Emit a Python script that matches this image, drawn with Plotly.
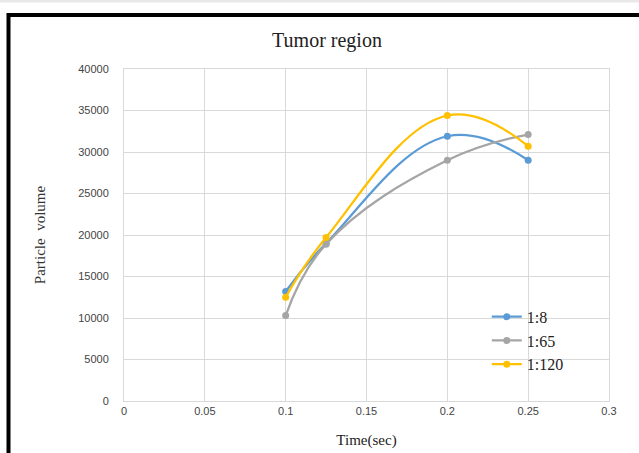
import plotly.graph_objects as go

time_sec = [0.1, 0.125, 0.2, 0.25]
series_names = ["1:8", "1:65", "1:120"]
vol_1_8 = [13200, 19000, 31900, 29000]
vol_1_65 = [10300, 18900, 29000, 32100]
vol_1_120 = [12500, 19700, 34400, 30700]
colors = ["#5B9BD5", "#A5A5A5", "#FFC000"]
x_ticks = [0, 0.05, 0.1, 0.15, 0.2, 0.25, 0.3]
x_tick_labels = ["0", "0.05", "0.1", "0.15", "0.2", "0.25", "0.3"]
y_ticks = [0, 5000, 10000, 15000, 20000, 25000, 30000, 35000, 40000]
y_tick_labels = [str(v) for v in y_ticks]

fig = go.Figure()
for name, vals, c in zip(series_names, [vol_1_8, vol_1_65, vol_1_120], colors):
    fig.add_trace(go.Scatter(
        x=time_sec, y=vals, name=name, mode="lines+markers",
        line=dict(color=c, width=2.25, shape="spline", smoothing=1.2),
        marker=dict(color=c, size=7),
    ))

serif = "Liberation Serif, Times New Roman, serif"
sans = "Liberation Sans, Arial, sans-serif"

fig.update_layout(
    width=639, height=453,
    margin=dict(l=124, r=30, t=69, b=52),
    paper_bgcolor="white", plot_bgcolor="white",
    title=dict(text="Tumor region", x=(327) / 639, xanchor="center",
               y=1 - 40 / 453, yanchor="middle",
               font=dict(family=serif, size=20, color="#222222")),
    xaxis=dict(range=[0, 0.3], tickvals=x_ticks, ticktext=x_tick_labels,
               showgrid=True, gridcolor="#d9d9d9", gridwidth=1, automargin=False,
               zeroline=False, showline=True, linecolor="#d9d9d9", mirror=True,
               ticks="", tickfont=dict(family=sans, size=11, color="#444444"),
               title=dict(text="Time(sec)", font=dict(family=serif, size=15, color="#222222"),
                          standoff=18)),
    yaxis=dict(range=[0, 40000], tickvals=y_ticks, ticktext=y_tick_labels,
               showgrid=True, gridcolor="#d9d9d9", gridwidth=1, automargin=False,
               zeroline=False, showline=True, linecolor="#d9d9d9", mirror=True,
               ticks="", ticklabelstandoff=12,
               tickfont=dict(family=sans, size=11, color="#444444"),
               title=dict(text="Particle  volume", font=dict(family=serif, size=15, color="#333333"),
                          standoff=28)),
    legend=dict(x=0.748, y=0.305, xanchor="left", yanchor="top",
                bgcolor="rgba(0,0,0,0)", font=dict(family=serif, size=16, color="#222222"),
                tracegroupgap=0, itemwidth=30),
    showlegend=True,
    shapes=[
        dict(type="rect", xref="paper", yref="paper",
             x0=-0.3, x1=1.2, y0=1.2003, y1=1.25,
             fillcolor="#e8e8e8", line=dict(width=0), layer="above"),
        dict(type="line", xref="paper", yref="paper",
             x0=(8.5 - 124) / 485, x1=1.2, y0=(401 - 15) / 332, y1=(401 - 15) / 332,
             line=dict(color="black", width=4)),
        dict(type="line", xref="paper", yref="paper",
             x0=(8.5 - 124) / 485, x1=(8.5 - 124) / 485, y0=(401 - 13) / 332, y1=-0.3,
             line=dict(color="black", width=4)),
    ],
)

fig.write_html("out.html")
